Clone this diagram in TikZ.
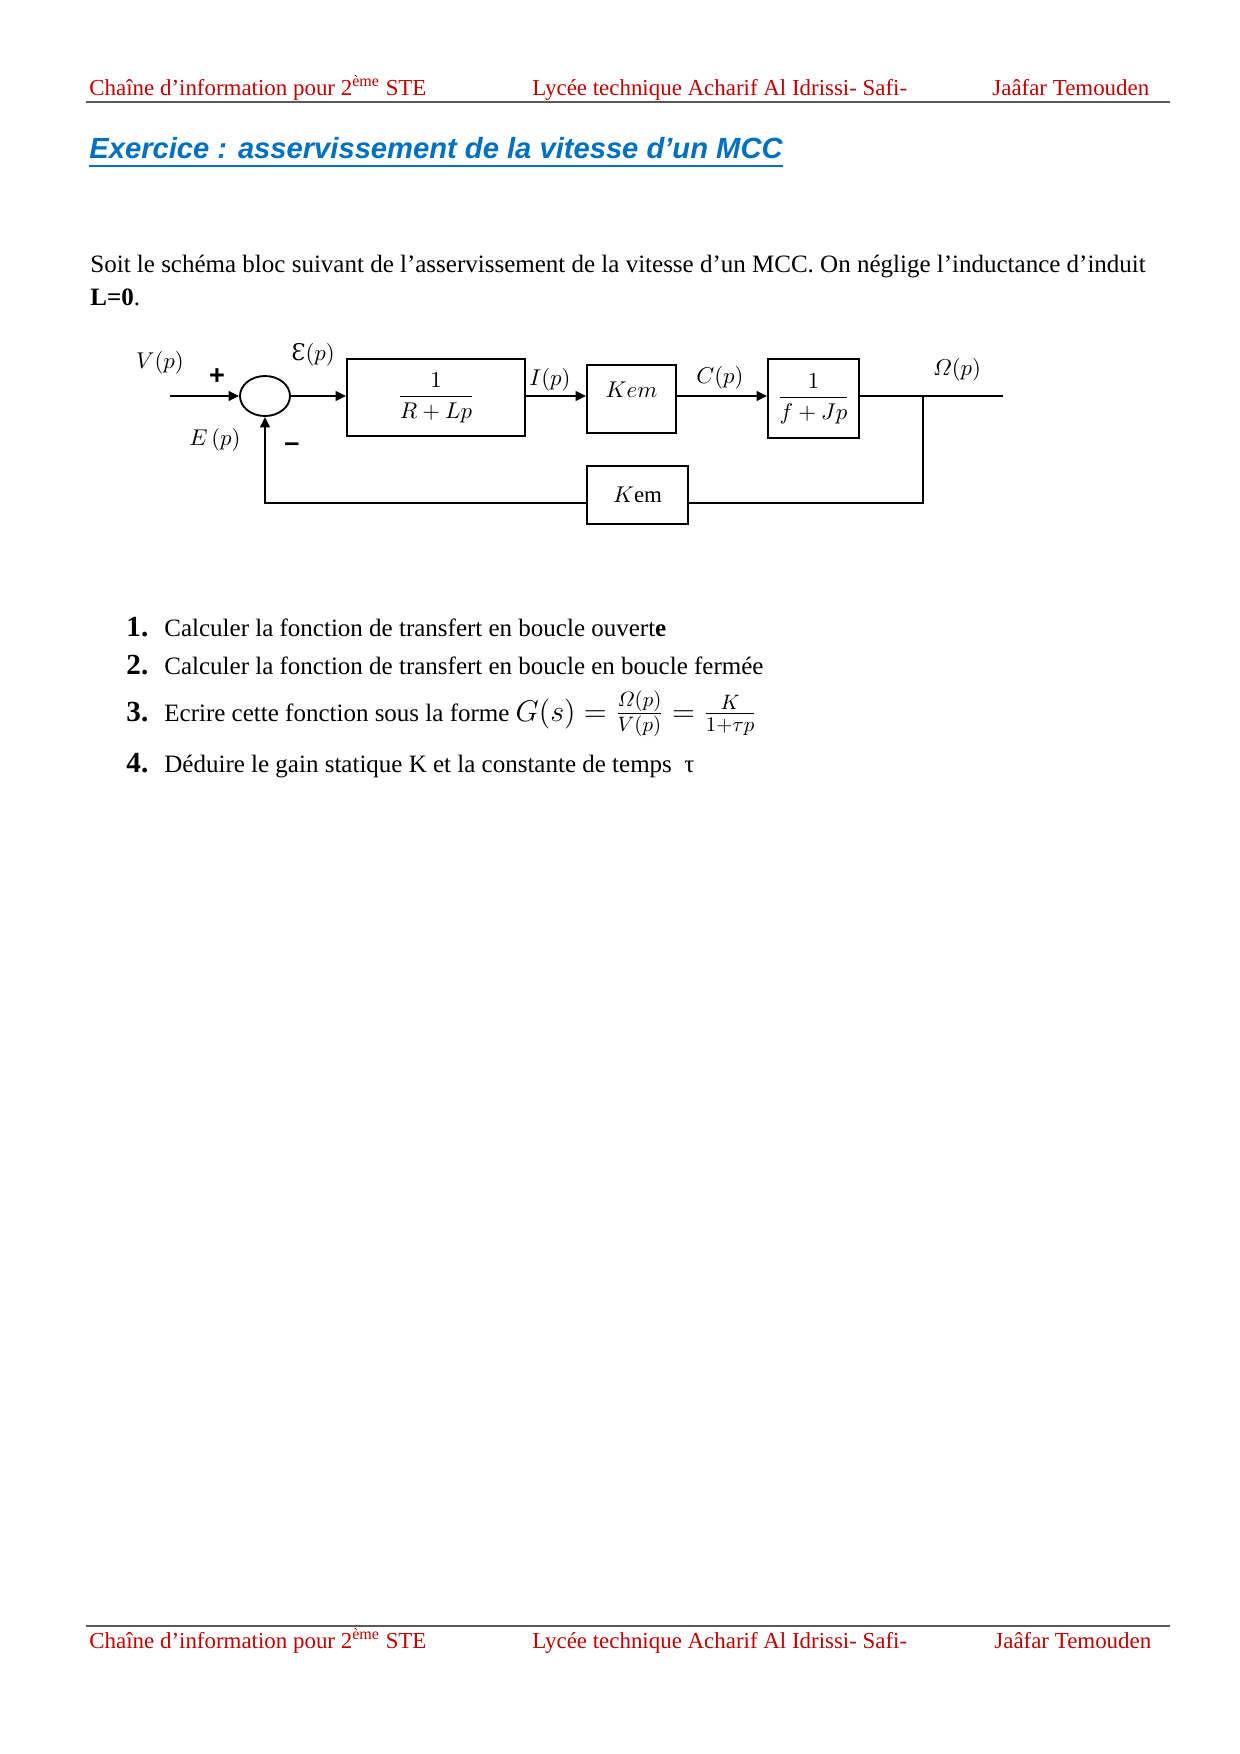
\documentclass[tikz,border=0pt]{standalone}
\usepackage{amsmath}
\usepackage{fontspec}
\setmainfont{Liberation Serif}
\newfontfamily\arialfont{Liberation Sans}
\newfontfamily\dvfont{DejaVu Serif}
\usetikzlibrary{arrows.meta,positioning,shapes.geometric}
\definecolor{hdrred}{HTML}{C00000}
\definecolor{ttlblue}{HTML}{0070C0}
\definecolor{rulegray}{HTML}{595959}

\begin{document}
\begin{tikzpicture}[x=0.48pt,y=-0.48pt,>={Triangle[length=5pt,width=4.6pt]},
  hdr/.style={anchor=base west,inner sep=0pt,text=hdrred,font=\fontsize{11}{13}\selectfont},
  txt/.style={anchor=base west,inner sep=0pt,font=\fontsize{12}{14}\selectfont},
  num/.style={anchor=base west,inner sep=0pt,font=\fontsize{14}{16}\selectfont\bfseries},
  blk/.style={draw,line width=0.9pt,inner sep=0pt,font=\fontsize{11}{13}\selectfont},
  lbl/.style={inner sep=0pt,font=\fontsize{11}{13}\selectfont},
  sgn/.style={inner sep=0pt,font=\arialfont\fontsize{13}{15}\selectfont\bfseries},
  wire/.style={line width=0.9pt}]
  \useasboundingbox (0,0) rectangle (1240,1754);
  % header
  \node[hdr](h1)at(89,95){Chaîne d’information pour 2\textsuperscript{ème} STE};
  \node[hdr](h2)at(532,95){Lycée technique Acharif Al Idrissi- Safi-};
  \node[hdr](h3)at(992,95){Jaâfar Temouden};
  \draw[rulegray,line width=0.7pt](86,102)--(1170,102);
  % title and statement
  \node[anchor=base west,inner sep=0pt,text=ttlblue,font=\arialfont\fontsize{14}{16}\selectfont\bfseries\itshape](ttl)at(89,158.5){Exercice : asservissement de la vitesse d’un MCC};
  \draw[ttlblue,line width=1pt]([yshift=-3.4pt]ttl.base west)--([yshift=-3.4pt]ttl.base east);
  \node[txt](intro)at(90,272){Soit le schéma bloc suivant de l’asservissement de la vitesse d’un MCC. On néglige l’inductance d’induit};
  \node[txt](lz)at(90,305){\textbf{L=0}.};
  % block diagram
  \node[ellipse,draw,wire,minimum width=24pt,minimum height=19.2pt,inner sep=0pt](sum)at(265,396){};
  \node[blk,minimum width=85.4pt,minimum height=37pt](g1)at(436,397.5){$\dfrac{1}{R+Lp}$};
  \node[blk,minimum width=42.7pt,minimum height=32.6pt,label={[lbl,yshift=4.3pt]center:$Kem$}](g2)at(631.5,399){};
  \node[blk,minimum width=43.7pt,minimum height=37.9pt](g3)at(813.5,398.5){$\dfrac{1}{f+Jp}$};
  \node[blk,minimum width=48.5pt,minimum height=27.8pt](g4)at(637.5,495){$K$em};
  \coordinate(vin)at(170,396);\coordinate(omg)at(1003,396);
  \coordinate(br)at(923,396);\coordinate(fbr)at(923,503);\coordinate(fbl)at(265,503);
  \draw[wire,->](vin)--(sum.west);
  \draw[wire,->](sum.east)--(g1.west |- sum.east);
  \draw[wire,->](g1.east |- sum.east)--(g2.west |- sum.east);
  \draw[wire,->](g2.east |- sum.east)--(g3.west |- sum.east);
  \draw[wire](g3.east |- sum.east)--(omg);
  \draw[wire](br)--(fbr)--(g4.east |- fbr);
  \draw[wire,->](g4.west |- fbr)--(fbl)--(sum.south);
  \node[lbl](lv)at(160,363){$V(p)$};\node[sgn](plus)at(217,377){+};
  \node[lbl](leps)at(313,355){{\dvfont Ɛ}$(p)$};
  \node[lbl](le)at(215,440){$E\,(p)$};\node[sgn](minus)at(292,447){–};
  \node[lbl](li)at(550,380){$I(p)$};\node[lbl](lc)at(720,378){$C(p)$};
  \node[lbl](lo)at(957,370){$\varOmega(p)$};
  % questions
  \node[num](n1)at(126,636){1.};\node[txt](q1)at(164,636){Calculer la fonction de transfert en boucle ouvert\textbf{e}};
  \node[num](n2)at(126,674){2.};\node[txt](q2)at(164,674){Calculer la fonction de transfert en boucle en boucle fermée};
  \node[num](n3)at(126,721){3.};\node[txt](q3)at(164,721){Ecrire cette fonction sous la forme {\fontsize{14}{16}\selectfont$G(s)=\frac{\varOmega(p)}{V(p)}=\frac{K}{1{+}\tau p}$}};
  \node[num](n4)at(126,772){4.};\node[txt](q4)at(164,772){Déduire le gain statique K et la constante de temps \ τ};
  % footer
  \draw[rulegray,line width=0.7pt](86,1626)--(1170,1626);
  \node[hdr](f1)at(89,1648){Chaîne d’information pour 2\textsuperscript{ème} STE};
  \node[hdr](f2)at(532,1648){Lycée technique Acharif Al Idrissi- Safi-};
  \node[hdr](f3)at(994,1648){Jaâfar Temouden};
\end{tikzpicture}
\end{document}
